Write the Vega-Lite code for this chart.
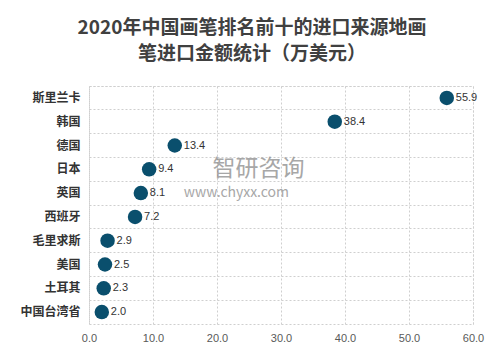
{
  "$schema": "https://vega.github.io/schema/vega-lite/v6.json",
  "width": 384,
  "height": 238,
  "autosize": {"type": "none"},
  "padding": {"left": 89, "top": 86, "right": 30, "bottom": 35},
  "background": "white",
  "title": {
    "text": ["2020年中国画笔排名前十的进口来源地画", "笔进口金额统计（万美元）"],
    "font": "Noto Sans CJK SC",
    "fontSize": 19,
    "fontWeight": "bold",
    "color": "#404040",
    "anchor": "middle",
    "dx": -29,
    "offset": 22,
    "lineHeight": 26
  },
  "config": {
    "font": "Noto Sans CJK SC",
    "view": {"stroke": "#cfcfcf", "strokeDash": [2, 2]}
  },
  "datasets": {
    "main": [
      {"country": "斯里兰卡", "value": 55.9},
      {"country": "韩国", "value": 38.4},
      {"country": "德国", "value": 13.4},
      {"country": "日本", "value": 9.4},
      {"country": "英国", "value": 8.1},
      {"country": "西班牙", "value": 7.2},
      {"country": "毛里求斯", "value": 2.9},
      {"country": "美国", "value": 2.5},
      {"country": "土耳其", "value": 2.3},
      {"country": "中国台湾省", "value": 2.0}
    ],
    "wm": [
      {"country": "日本", "value": 19.3, "label": "智研咨询", "kind": "big"},
      {"country": "英国", "value": 14.8, "label": "www.chyxx.com", "kind": "small"}
    ]
  },
  "resolve": {"scale": {"size": "independent"}},
  "layer": [
    {
      "data": {"name": "main"},
      "mark": {"type": "circle", "size": 210, "opacity": 1, "color": "#0A4F6D"},
      "encoding": {
        "x": {
          "field": "value", "type": "quantitative",
          "scale": {"domain": [0, 60], "nice": false},
          "axis": {
            "title": null, "values": [0, 10, 20, 30, 40, 50, 60], "format": ".1f",
            "labelFont": "Liberation Sans", "labelFontSize": 11, "labelColor": "#595959",
            "labelOverlap": false, "labelFlush": false,
            "ticks": false, "domain": false, "labelPadding": 8,
            "grid": true, "gridColor": "#cfcfcf", "gridDash": [2, 2]
          }
        },
        "y": {
          "field": "country", "type": "nominal", "sort": null,
          "scale": {"type": "band", "paddingInner": 0, "paddingOuter": 0,
            "domain": ["斯里兰卡", "韩国", "德国", "日本", "英国", "西班牙", "毛里求斯", "美国", "土耳其", "中国台湾省"]},
          "axis": {
            "title": null, "ticks": false, "domain": false, "labelPadding": 9,
            "labelFontSize": 12, "labelFontWeight": "bold", "labelColor": "#333333",
            "grid": true, "bandPosition": 0, "gridColor": "#cfcfcf", "gridDash": [2, 2]
          }
        }
      }
    },
    {
      "data": {"name": "wm"},
      "mark": {"type": "text", "align": "left", "color": "#8a8a8a", "opacity": 0.75},
      "encoding": {
        "x": {"field": "value", "type": "quantitative"},
        "y": {"field": "country", "type": "nominal", "sort": null},
        "text": {"field": "label"},
        "size": {"field": "kind", "type": "nominal", "scale": {"domain": ["big", "small"], "range": [23, 14]}, "legend": null}
      }
    },
    {
      "data": {"name": "main"},
      "mark": {"type": "text", "align": "left", "dx": 9, "fontSize": 11, "color": "#333333", "font": "Liberation Sans"},
      "encoding": {
        "x": {"field": "value", "type": "quantitative"},
        "y": {"field": "country", "type": "nominal", "sort": null},
        "text": {"field": "value", "type": "quantitative", "format": ".1f"}
      }
    }
  ]
}
